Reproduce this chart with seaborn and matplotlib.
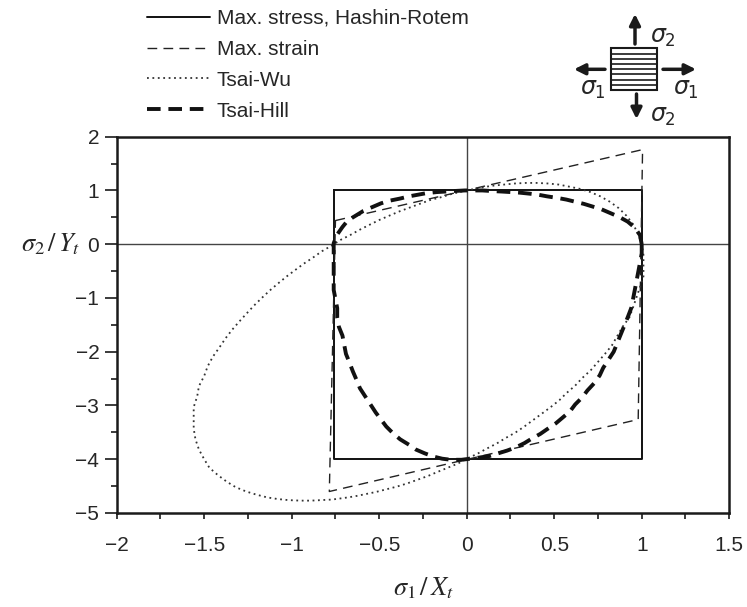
import numpy as np
import pandas as pd
import matplotlib
matplotlib.use("Agg")
import matplotlib.pyplot as plt
import seaborn as sns
from matplotlib.patches import Rectangle

# ---- data (normalised stresses sigma1/Xt, sigma2/Yt) ----
max_stress_x = [-0.76, 1.0, 1.0, -0.76, -0.76]
max_stress_y = [1.0, 1.0, -4.0, -4.0, 1.0]

max_strain_x = [-0.75, 1.005, 0.98, -0.785, -0.75]
max_strain_y = [0.44, 1.76, -3.26, -4.6, 0.44]

tsai_wu_x = [1, 0.98, 0.951, 0.913, 0.869, 0.818, 0.764, 0.707, 0.647, 0.587,
             0.525, 0.463, 0.401, 0.339, 0.277, 0.215, 0.153, 0.092, 0.031, -0.03,
             -0.091, -0.151, -0.21, -0.269, -0.327, -0.385, -0.443, -0.5, -0.556, -0.611,
             -0.666, -0.721, -0.774, -0.827, -0.879, -0.93, -0.98, -1.029, -1.078, -1.125,
             -1.171, -1.215, -1.258, -1.3, -1.34, -1.378, -1.413,
             -1.45, -1.48, -1.5, -1.53, -1.54, -1.56, -1.56, -1.56, -1.55, -1.53,
             -1.5, -1.47, -1.42, -1.37, -1.32, -1.26, -1.2, -1.14, -1.08, -1.02,
             -0.95, -0.89, -0.83, -0.77, -0.7, -0.64, -0.58, -0.52, -0.46, -0.4,
             -0.34, -0.28, -0.22, -0.17, -0.11, -0.05, 0, 0.06, 0.11, 0.17,
             0.22, 0.28, 0.33, 0.38, 0.43, 0.48, 0.53, 0.57, 0.62, 0.66,
             0.71, 0.75, 0.79, 0.83, 0.86, 0.89, 0.93, 0.95, 0.97, 0.99,
             1.01, 1.01, 1.01, 1]
tsai_wu_y = [0, 0.19, 0.37, 0.53, 0.67, 0.79, 0.89, 0.97, 1.03, 1.07,
             1.11, 1.13, 1.14, 1.14, 1.13, 1.11, 1.09, 1.06, 1.02, 0.98,
             0.93, 0.87, 0.82, 0.75, 0.68, 0.61, 0.53, 0.45, 0.36, 0.27,
             0.17, 0.08, -0.03, -0.13, -0.25, -0.36, -0.48, -0.6, -0.73, -0.86,
             -1, -1.14, -1.29, -1.44, -1.59, -1.75, -1.92, -2.09, -2.27, -2.45,
             -2.64, -2.83, -3.03, -3.23, -3.43, -3.63, -3.82, -4, -4.16, -4.3,
             -4.42, -4.52, -4.6, -4.66, -4.71, -4.74, -4.76, -4.77, -4.77, -4.76,
             -4.75, -4.72, -4.69, -4.65, -4.61, -4.56, -4.51, -4.45, -4.38, -4.31,
             -4.24, -4.16, -4.08, -3.99, -3.9, -3.81, -3.71, -3.61, -3.5, -3.39,
             -3.27, -3.15, -3.03, -2.9, -2.77, -2.63, -2.49, -2.34, -2.19, -2.04,
             -1.88, -1.71, -1.54, -1.36, -1.18, -0.99, -0.8, -0.6, -0.4, -0.2,
             0]

tsai_hill_x = [1, 0.99, 0.96, 0.92, 0.87, 0.82, 0.77, 0.72, 0.67, 0.62,
               0.57, 0.52, 0.46, 0.41, 0.36, 0.3, 0.25, 0.2, 0.14, 0.09,
               0.04, -0.01, -0.07, -0.12, -0.17, -0.23, -0.28, -0.33, -0.38, -0.44,
               -0.49, -0.54, -0.59, -0.63, -0.68, -0.71, -0.74, -0.76, -0.76, -0.76,
               -0.76, -0.76, -0.76, -0.75, -0.74, -0.74, -0.73, -0.71, -0.7, -0.69,
               -0.67, -0.65, -0.63, -0.61, -0.58, -0.55, -0.52, -0.49, -0.46, -0.42,
               -0.38, -0.33, -0.29, -0.24, -0.19, -0.14, -0.09, -0.03, 0.02, 0.07,
               0.13, 0.18, 0.23, 0.28, 0.33, 0.37, 0.42, 0.46, 0.51, 0.55,
               0.59, 0.62, 0.66, 0.69, 0.73, 0.76, 0.78, 0.81, 0.84, 0.86,
               0.88, 0.9, 0.92, 0.94, 0.95, 0.96, 0.97, 0.98, 0.99, 1, 1]
tsai_hill_y = [0, 0.17, 0.31, 0.42, 0.51, 0.58, 0.65, 0.7, 0.75, 0.79,
               0.83, 0.86, 0.89, 0.92, 0.94, 0.96, 0.97, 0.98, 0.99, 1,
               1, 1, 0.99, 0.98, 0.97, 0.95, 0.92, 0.89, 0.85, 0.81,
               0.76, 0.69, 0.62, 0.54, 0.44, 0.32, 0.18, 0.02, -0.16, -0.33,
               -0.5, -0.68, -0.85, -1.02, -1.19, -1.37, -1.54, -1.7, -1.87, -2.04,
               -2.2, -2.37, -2.52, -2.68, -2.83, -2.98, -3.13, -3.26, -3.39, -3.52,
               -3.63, -3.73, -3.82, -3.89, -3.95, -3.99, -4.01, -4.01, -3.99, -3.97,
               -3.94, -3.89, -3.84, -3.78, -3.7, -3.62, -3.53, -3.44, -3.33, -3.22,
               -3.11, -2.98, -2.85, -2.72, -2.58, -2.44, -2.3, -2.15, -2, -1.84,
               -1.68, -1.52, -1.36, -1.19, -1.03, -0.86, -0.69, -0.52, -0.35, -0.17, 0]

criteria = ["Max. stress, Hashin-Rotem", "Max. strain", "Tsai-Wu", "Tsai-Hill"]
x_ticks = [-2, -1.5, -1, -0.5, 0, 0.5, 1, 1.5]
x_tick_labels = ["\u22122", "\u22121.5", "\u22121", "\u22120.5", "0", "0.5", "1", "1.5"]
y_ticks = [-5, -4, -3, -2, -1, 0, 1, 2]
y_tick_labels = ["\u22125", "\u22124", "\u22123", "\u22122", "\u22121", "0", "1", "2"]

# ---- style ----
sns.set_theme(style="white")
plt.rcParams["font.family"] = ["Liberation Sans", "DejaVu Sans"]
plt.rcParams["mathtext.fontset"] = "stix"

fig = plt.figure(figsize=(7.47, 6.07), dpi=100)
ax = fig.add_axes([116.7/747, 1-513/607, 612.5/747, 376.3/607])
ax.axhline(0, color="#444", lw=1.0, zorder=1)
ax.axvline(0, color="#444", lw=1.0, zorder=1)

sns.lineplot(x=max_stress_x, y=max_stress_y, sort=False, estimator=None, color="#111",
             lw=1.4, ax=ax, label=criteria[0])
sns.lineplot(x=max_strain_x, y=max_strain_y, sort=False, estimator=None, color="#222",
             lw=1.0, linestyle=(0, (7, 4.5)), ax=ax, label=criteria[1])
sns.lineplot(x=tsai_wu_x, y=tsai_wu_y, sort=False, estimator=None, color="#333",
             lw=1.3, linestyle=(0, (1, 2)), ax=ax, label=criteria[2])
sns.lineplot(x=tsai_hill_x, y=tsai_hill_y, sort=False, estimator=None, color="#111",
             lw=2.8, linestyle=(0, (3.5, 2)), ax=ax, label=criteria[3])

ax.set_xlim(-2, 1.5)
ax.set_ylim(-5, 2)
ax.set_xticks(x_ticks)
ax.set_xticklabels(x_tick_labels)
ax.set_xticks(np.arange(-2, 1.51, 0.25), minor=True)
ax.set_yticks(y_ticks)
ax.set_yticklabels(y_tick_labels)
ax.set_yticks(np.arange(-5, 2.1, 0.5), minor=True)
ax.tick_params(axis="x", which="both", direction="out", length=4.5, width=1.2,
               labelsize=15, pad=12, color="k", bottom=True)
ax.tick_params(axis="y", which="major", direction="out", length=8.5, width=1.2,
               labelsize=15, pad=4, color="k", left=True)
ax.tick_params(axis="y", which="minor", direction="out", length=4.5, width=1.2,
               color="k", left=True)
for s in ax.spines.values():
    s.set_linewidth(1.8)
    s.set_color("k")

ax.set_xlabel(r"$\sigma_1\,/\,X_t$", fontsize=19, labelpad=15)
ax.set_ylabel(r"$\sigma_2\,/\,Y_t$", fontsize=19, rotation=0, ha="right", va="center")
ax.yaxis.set_label_coords(-0.06, 5/7)

ax.legend(loc="upper left", bbox_to_anchor=(147/747, 1-9/607), bbox_transform=fig.transFigure,
          frameon=False, fontsize=15, handlelength=3.0, handletextpad=0.35, labelspacing=0.57,
          borderpad=0, borderaxespad=0)

# ---- loading sketch (top right) ----
ic = fig.add_axes([560/747, 1-130/607, 160/747, 130/607])
ic.set_xlim(560, 720)
ic.set_ylim(130, 0)
ic.axis("off")
ic.add_patch(Rectangle((610.7, 48.3), 46.6, 41.7, fill=False, lw=1.5, ec="k"))
for yy in np.linspace(48.3, 90, 9)[1:-1]:
    ic.plot([610.7, 657.3], [yy, yy], color="k", lw=1.2)
ap = dict(arrowstyle="-|>", lw=2.5, color="k", mutation_scale=16, shrinkA=0, shrinkB=0)
ic.annotate("", xy=(635, 14), xytext=(635, 44), arrowprops=ap)
ic.annotate("", xy=(636.5, 119), xytext=(636.5, 94), arrowprops=ap)
ic.annotate("", xy=(574, 69.3), xytext=(605, 69.3), arrowprops=ap)
ic.annotate("", xy=(696, 69.3), xytext=(663, 69.3), arrowprops=ap)
kw = dict(fontsize=17, ha="center", va="center", math_fontfamily="dejavusans")
ic.text(663, 37.5, r"$\sigma_2$", **kw)
ic.text(663, 116.7, r"$\sigma_2$", **kw)
ic.text(593, 90, r"$\sigma_1$", **kw)
ic.text(686, 90, r"$\sigma_1$", **kw)

fig.savefig("out.png", dpi=100)
